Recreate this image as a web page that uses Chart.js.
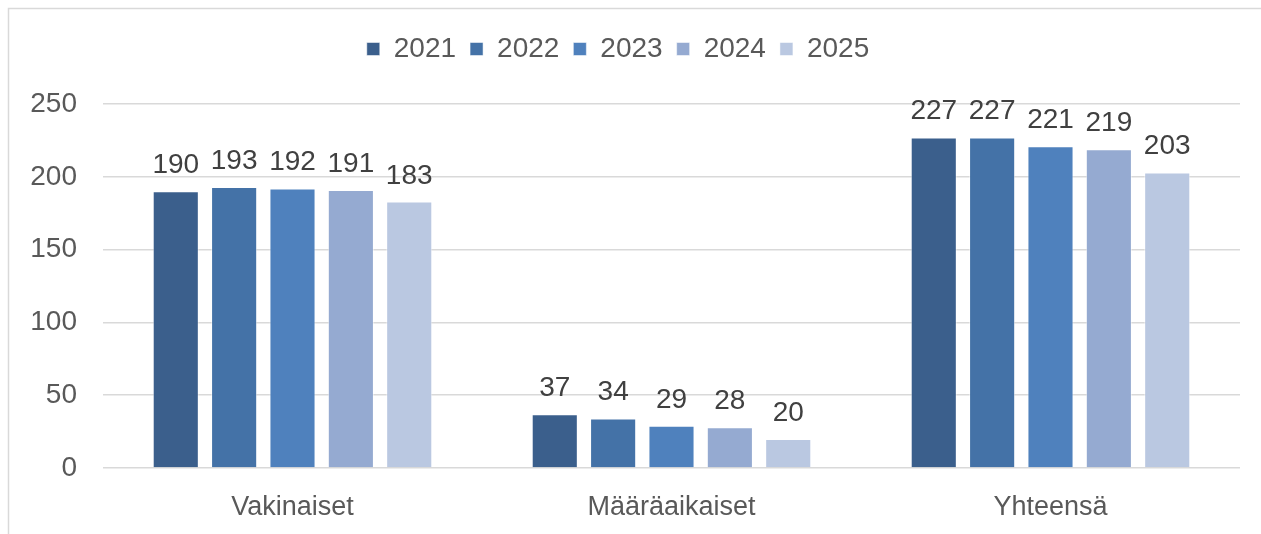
<!DOCTYPE html>
<html lang="fi">

<head>
  <meta charset="UTF-8">
  <title>Henkilöstö</title>
  <style>
    html, body { margin: 0; padding: 0; background: #fff; }
  </style>
</head>

<body>
  <canvas id="grafico" width="1261" height="534"></canvas>

  <script src="https://cdn.jsdelivr.net/npm/chart.js"></script>
  <script>
    // arvot luettu kuvasta
    var categorias = ["Vakinaiset", "Määräaikaiset", "Yhteensä"];
    var anos = ["2021", "2022", "2023", "2024", "2025"];
    var valores2021 = [190, 37, 227];
    var valores2022 = [193, 34, 227];
    var valores2023 = [192, 29, 221];
    var valores2024 = [191, 28, 219];
    var valores2025 = [183, 20, 203];
    var cores = ["#3B5F8C", "#4472A7", "#4F81BD", "#95AAD1", "#BAC8E1"];
    var ticksY = [0, 50, 100, 150, 200, 250];

    var fonte = "'Liberation Sans', Arial, sans-serif";
    var series = [valores2021, valores2022, valores2023, valores2024, valores2025];

    // moldura cinza (só borda esquerda e superior aparecem)
    var moldura = {
      id: 'moldura',
      beforeDraw(chart) {
        var ctx = chart.ctx;
        ctx.save();
        ctx.strokeStyle = '#D9D9D9';
        ctx.lineWidth = 1.5;
        ctx.beginPath();
        ctx.moveTo(8.5, chart.height);
        ctx.lineTo(8.5, 8.5);
        ctx.lineTo(chart.width, 8.5);
        ctx.stroke();
        ctx.restore();
      }
    };

    // altura fixa da legenda e pequeno deslocamento para a esquerda
    var ajusteLegenda = {
      id: 'ajusteLegenda',
      beforeInit(chart) {
        var fitOriginal = chart.legend.fit;
        chart.legend.fit = function () {
          fitOriginal.call(this);
          this.height = 83;
        };
      },
      afterLayout(chart) {
        chart.legend.left -= 6;
        chart.legend.right -= 6;
      }
    };

    // rótulos de valor acima das barras
    var rotulos = {
      id: 'rotulos',
      afterDatasetsDraw(chart) {
        var ctx = chart.ctx;
        ctx.save();
        ctx.font = '28px ' + fonte;
        ctx.fillStyle = '#404040';
        ctx.textAlign = 'center';
        ctx.textBaseline = 'alphabetic';
        chart.data.datasets.forEach(function (ds, i) {
          chart.getDatasetMeta(i).data.forEach(function (barra, j) {
            ctx.fillText(ds.data[j], barra.x, barra.y - 18);
          });
        });
        ctx.restore();
      }
    };

    var datasets = [];
    for (var i = 0; i < anos.length; i++) {
      datasets.push({
        label: anos[i],
        data: series[i],
        backgroundColor: cores[i],
        borderColor: 'rgba(255,255,255,0.5)',
        borderWidth: 1,
        barPercentage: 0.79,
        categoryPercentage: 0.77
      });
    }

    var grafico = new Chart(document.getElementById("grafico"), {
      type: 'bar',
      data: {
        labels: categorias,
        datasets: datasets
      },
      options: {
        responsive: false,
        animation: false,
        layout: {
          padding: { left: 8, right: 21, top: 21, bottom: 0 }
        },
        plugins: {
          legend: {
            position: 'top',
            labels: {
              boxWidth: 13,
              boxHeight: 13,
              padding: 14,
              color: '#595959',
              font: { family: fonte, size: 28 }
            }
          },
          tooltip: { enabled: false }
        },
        scales: {
          x: {
            afterFit: function (eixo) {
              eixo.height = 66;
            },
            grid: { display: false },
            border: { display: false },
            ticks: {
              color: '#595959',
              padding: 15,
              font: { family: fonte, size: 27 }
            }
          },
          y: {
            min: 0,
            max: 250,
            afterBuildTicks: function (eixo) {
              eixo.ticks = ticksY.map(function (v) { return { value: v }; });
            },
            afterFit: function (eixo) {
              eixo.width = 95;
            },
            grid: { color: '#D9D9D9', lineWidth: 1.5, drawTicks: false },
            border: { display: false },
            ticks: {
              color: '#595959',
              padding: 26,
              font: { family: fonte, size: 28 }
            }
          }
        }
      },
      plugins: [moldura, ajusteLegenda, rotulos]
    });
  </script>
</body>

</html>
